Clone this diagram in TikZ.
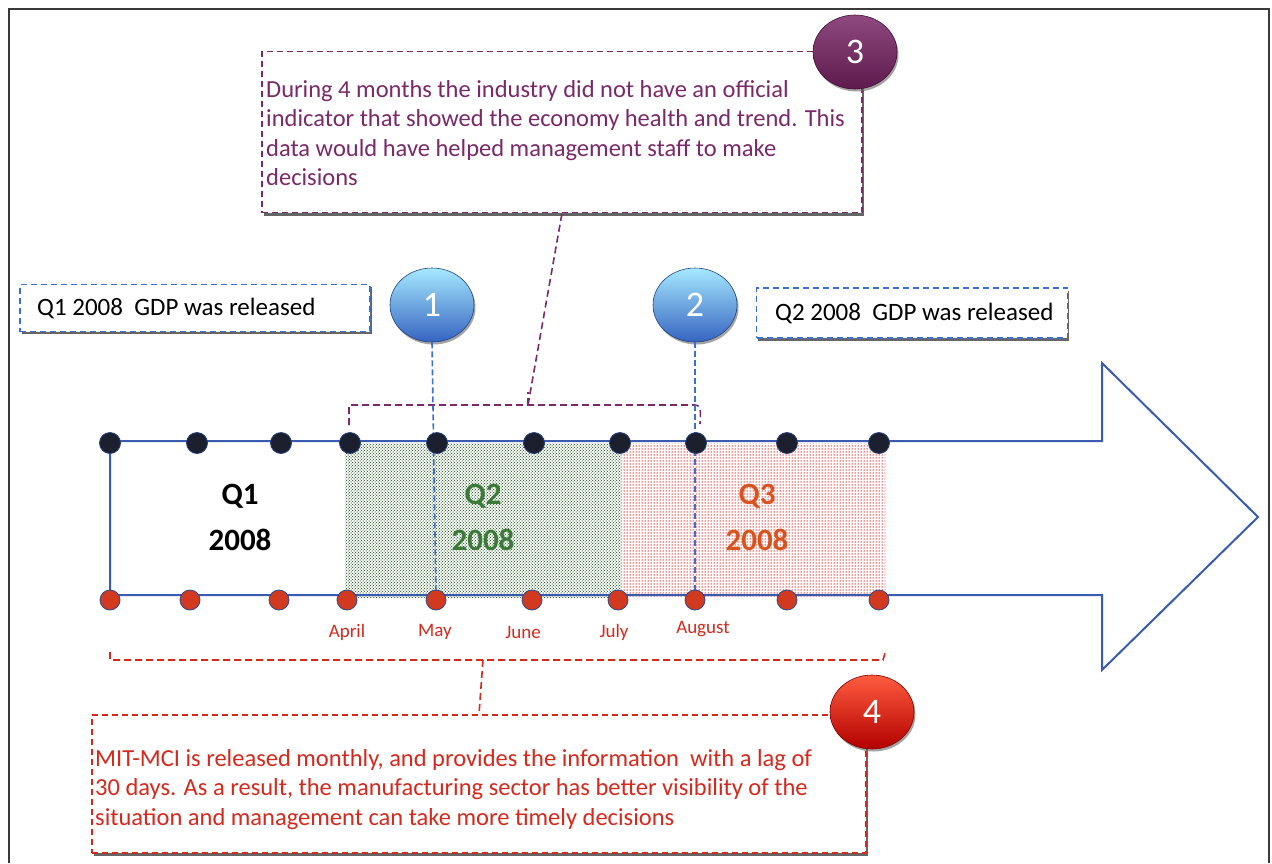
\documentclass[tikz,border=0pt]{standalone}
\usepackage{fontspec}
\setmainfont{Carlito}
\usetikzlibrary{shapes.geometric,patterns,shadows}
\definecolor{arrowblue}{HTML}{3A5BB0}
\definecolor{dashblue}{HTML}{3B6FD6}
\definecolor{purp}{HTML}{7A2A68}
\definecolor{purpdark}{HTML}{5E1A4C}
\definecolor{redtxt}{HTML}{D42A1E}
\definecolor{dotred}{HTML}{D23A20}
\definecolor{dotblack}{HTML}{1B1F2E}
\definecolor{qgreen}{HTML}{3C7A3A}
\definecolor{qorange}{HTML}{D9531E}
\definecolor{framegray}{HTML}{3A3A3A}
\tikzset{
  topdot/.style={circle, minimum size=21pt, inner sep=0pt, fill=dotblack, draw=arrowblue!70!black, line width=0.8pt},
  botdot/.style={circle, minimum size=20pt, inner sep=0pt, fill=dotred, draw=arrowblue!80!black, line width=0.8pt},
  gdpbox/.style={draw=dashblue, dash pattern=on 6pt off 4pt, line width=1.6pt, fill=white, inner sep=0pt,
     drop shadow={shadow xshift=1.5pt, shadow yshift=-2.5pt, fill=black!75, opacity=0.8}},
  gdptext/.style={font=\fontsize{25}{30}\selectfont, text=black, inner sep=0pt, anchor=west},
  callbox/.style={dash pattern=on 6pt off 4pt, line width=1.6pt, fill=white, inner sep=0pt,
     drop shadow={shadow xshift=1.5pt, shadow yshift=-3pt, fill=black!75, opacity=0.8}},
  calltext/.style={anchor=north west, inner sep=0pt, align=left, font=\fontsize{24.5}{29.5}\selectfont},
  numball/.style={ellipse, minimum width=84pt, minimum height=74pt, inner sep=0pt,
     text=white, font=\fontsize{36}{36}\selectfont,
     drop shadow={shadow xshift=1.5pt, shadow yshift=-2.5pt, fill=black!60, opacity=0.6}},
  blueball/.style={numball, top color=blue!25!cyan!35!white, bottom color=dashblue!90!black, draw=dashblue!60!black, line width=0.6pt},
  month/.style={text=redtxt, font=\fontsize{19}{22}\selectfont, inner sep=0pt},
  qlabel/.style={align=center, font=\bfseries\fontsize{31}{46}\selectfont, inner sep=0pt},
  bluelink/.style={dashblue, dash pattern=on 6pt off 3pt, line width=1.6pt},
  purplink/.style={purp, dash pattern=on 7pt off 4pt, line width=1.6pt},
  redlink/.style={redtxt, dash pattern=on 7pt off 4pt, line width=1.6pt}
}
\begin{document}
\begin{tikzpicture}[x=1pt,y=-1pt]
\useasboundingbox (0,0) rectangle (1272,863);
\fill[white] (0,0) rectangle (1272,863);
% outer frame
\draw[framegray, line width=2.5pt] (9,863) -- (9,9) -- (1269,9) -- (1269,863);

% shaded quarters
\fill[pattern=crosshatch dots, pattern color=qgreen!80!black] (345,443) rectangle (622,597);
\fill[pattern=crosshatch dots, pattern color=qgreen!80!black] (346,444) rectangle (622,597);
\fill[pattern=dots, pattern color=red!85!black] (622,443) rectangle (885,597);
\fill[pattern=dots, pattern color=red!85!black] (623,444.5) rectangle (885,597);

% big arrow
\draw[arrowblue, line width=2pt, line join=miter]
  (110,441) -- (1102,441) -- (1102,363) -- (1258,517) -- (1102,670) -- (1102,595) -- (110,595) -- cycle;

% quarter labels
\node[qlabel, text=black] (q1) at (240,517) {Q1\\2008};
\node[qlabel, text=qgreen] (q2) at (483,517) {Q2\\2008};
\node[qlabel, text=qorange] (q3) at (757,517) {Q3\\2008};

% GDP boxes
\node[gdpbox, minimum width=350pt, minimum height=47pt] (gdp1) at (195,308) {};
\node[gdptext] (gdp1t) at (37,308) {Q1 2008\ \ GDP was released};
\node[gdpbox, minimum width=311pt, minimum height=50pt] (gdp2) at (912,313) {};
\node[gdptext] (gdp2t) at (775,313) {Q2 2008\ \ GDP was released};

% numbered balls 1 and 2
\node[blueball] (c1) at (432,305) {1};
\node[blueball] (c2) at (695,305) {2};

% purple bracket
\coordinate (pbM) at (528,405);
\draw[purplink] (349,425) -- (349,405) -- (695,405) to[out=0,in=90] (700,424);
\draw[purplink] (528,405) -- (528,392);

% red bracket
\coordinate (rbM) at (483,660);
\draw[redlink] (110,652) -- (110,660) -- (883,660) -- (886,650);

% connectors from balls
\draw[bluelink] (c1.south) -- (436,600);
\draw[bluelink] (c2.south) -- (695,600);

% dots
\foreach \x [count=\i] in {110,197,281,350,437,534,620,696,787,879}
  \node[topdot] (t\i) at (\x,443) {};
\foreach \x [count=\i] in {110,190,279,347,436,532,618,695,787,879}
  \node[botdot] (b\i) at (\x,600) {};

% month labels
\node[month] (mApr) at (347,632) {April};
\node[month] (mMay) at (435,632) {May};
\node[month] (mJun) at (523,632) {June};
\node[month] (mJul) at (614,632) {July};
\node[month] (mAug) at (703,629) {August};

% callout 3
\node[callbox, draw=purp, minimum width=600pt, minimum height=161pt] (box3) at (562,132) {};
\node[calltext, text=purp] (txt3) at (266,80)
  {During 4 months the industry did not have an official\\
   indicator that showed the economy health and trend. This\\
   data would have helped management staff to make\\
   decisions};
\node[numball, top color=purp!85!white, bottom color=purpdark, draw=purpdark!70!black, line width=0.6pt] (c3) at (855,52) {3};

% callout 4
\node[callbox, draw=redtxt, minimum width=774pt, minimum height=138pt] (box4) at (479,784) {};
\node[calltext, text=redtxt] (txt4) at (95,749)
  {MIT-MCI is released monthly, and provides the information\ \ with a lag of\\
   30 days. As a result, the manufacturing sector has better visibility of the\\
   situation and management can take more timely decisions};
\node[numball, top color=red!70!orange!75!white, bottom color=red!70!black, draw=red!50!black, line width=0.6pt] (c4) at (872,712) {4};

% connectors to callouts
\draw[purplink] (pbM) -- (box3.south);
\draw[redlink] (rbM) -- (box4.north);
\end{tikzpicture}
\end{document}
